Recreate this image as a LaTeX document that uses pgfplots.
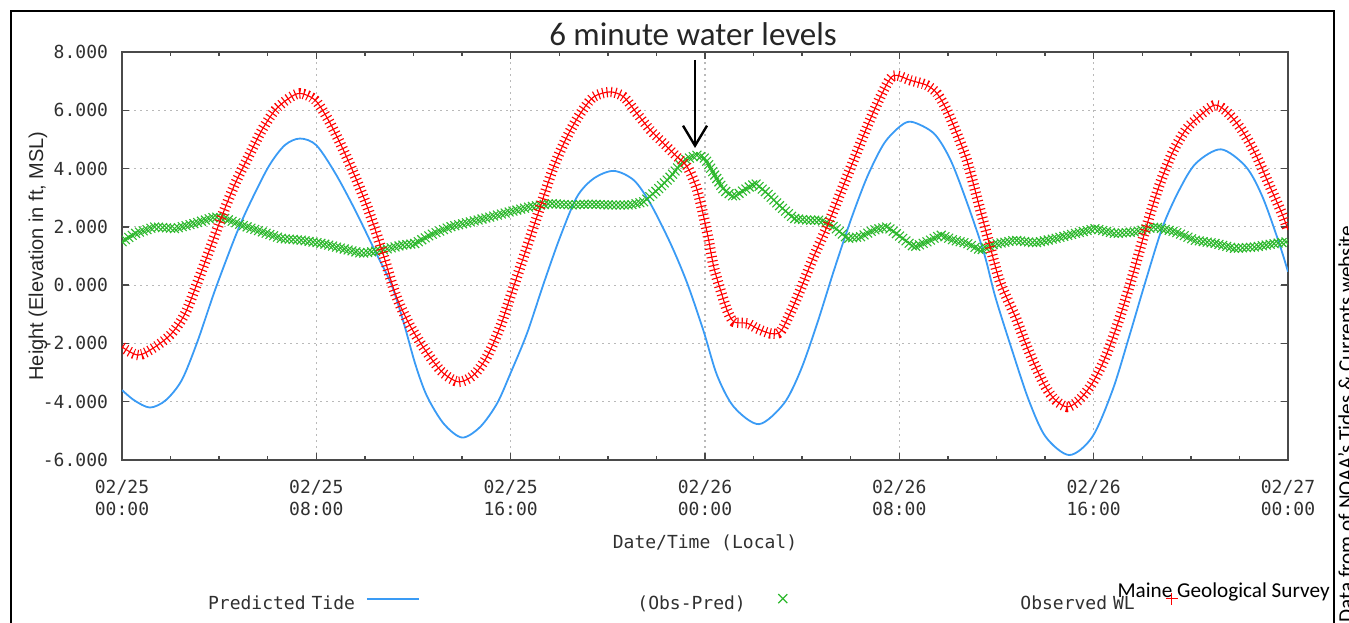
\documentclass[border=0pt]{standalone}
\usepackage{pgfplots}
\pgfplotsset{compat=1.18}
\usepackage{pgfplotstable}
\usepackage{fontspec}
\setmainfont{Carlito}
\newfontfamily\monofont{DejaVu Sans Mono}
\newfontfamily\labelfont{Liberation Sans}
\usetikzlibrary{arrows.meta, decorations.markings}

\definecolor{tideblue}{HTML}{3A9BF5}
\definecolor{obsred}{HTML}{FF0000}
\definecolor{diffgreen}{HTML}{2DB82D}
\definecolor{axisgray}{HTML}{4A4A4A}
\definecolor{textgray}{HTML}{303030}

% hours since 02/25 00:00, level in ft (MSL)
\pgfplotstableread{
hours level
0 -3.6
0.5 -3.95
1.15 -4.2
1.8 -3.95
2.46 -3.26
3.1 -1.95
3.83 -0.17
4.66 1.66
5.2 2.69
6.03 4.06
6.7 4.8
7.33 5.03
8.0 4.8
8.78 3.84
9.6 2.57
10.4 1.2
11.1 0.0
11.6 -1.3
12.07 -2.7
12.55 -3.8
13.24 -4.75
14.0 -5.23
14.75 -4.86
15.44 -4.06
15.99 -3.03
16.67 -1.66
17.36 0.06
18.04 1.66
18.73 3.03
19.42 3.66
20.24 3.92
21.07 3.6
21.75 2.8
22.58 1.43
23.27 0.06
23.95 -1.6
24.5 -3.1
25.19 -4.18
26.22 -4.77
27.25 -4.06
27.94 -2.92
28.62 -1.31
29.31 0.51
30.0 2.23
30.68 3.72
31.37 4.86
32.05 5.46
32.53 5.6
33.43 5.2
34.11 4.29
34.8 2.8
35.49 1.09
35.95 -0.4
36.64 -2.23
37.33 -3.95
38.02 -5.2
39.0 -5.83
39.95 -5.2
40.78 -3.6
41.46 -1.77
42.15 0.17
42.84 2.0
43.52 3.26
44.21 4.18
45.24 4.66
46.27 4.06
46.95 3.03
47.64 1.43
48 0.46
}\predicted

\pgfplotstableread{
hours level
0 -2.12
0.67 -2.4
1.36 -2.12
2.04 -1.66
2.6 -0.97
3.14 0.17
3.7 1.43
4.1 2.34
4.66 3.49
5.2 4.4
5.76 5.32
6.3 6.0
6.85 6.4
7.33 6.58
7.95 6.35
8.5 5.66
9.05 4.75
9.6 3.72
10.15 2.57
10.7 1.2
11.25 -0.29
11.8 -1.3
12.3 -2.0
12.8 -2.6
13.24 -3.03
13.86 -3.32
14.47 -3.09
15.02 -2.46
15.57 -1.43
16.12 -0.06
16.67 1.31
17.22 2.69
17.77 4.06
18.32 5.09
18.87 5.89
19.42 6.46
20.1 6.63
20.65 6.46
21.2 5.89
21.75 5.32
22.3 4.86
22.85 4.4
23.27 4.06
23.68 3.26
24.09 1.8
24.36 0.63
24.64 -0.17
24.91 -0.86
25.19 -1.26
25.74 -1.31
26.15 -1.49
26.7 -1.66
27.1 -1.6
27.5 -0.97
27.92 -0.17
28.47 0.97
29.02 2.0
29.57 3.15
30.12 4.29
30.67 5.43
31.22 6.46
31.63 7.09
31.9 7.2
32.45 7.03
33.13 6.86
33.55 6.58
33.96 6.0
34.37 5.2
34.78 4.29
35.19 3.03
35.74 1.31
36.15 0.1
36.78 -1.09
37.2 -2.0
37.61 -2.8
38.02 -3.49
38.43 -3.95
38.91 -4.18
39.39 -3.95
39.94 -3.37
40.49 -2.46
41.04 -1.2
41.59 0.29
42.13 1.89
42.68 3.37
43.23 4.52
43.78 5.32
44.33 5.78
45.0 6.18
45.55 5.89
46.1 5.32
46.65 4.52
47.2 3.49
47.75 2.46
48 1.89
}\observed

\pgfplotstableread{
hours level
0 1.49
0.54 1.77
1.36 2.0
2.18 1.94
3.0 2.12
3.83 2.34
4.24 2.29
4.93 2.06
5.76 1.83
6.58 1.6
7.4 1.54
8.23 1.43
9.05 1.26
9.88 1.09
10.7 1.2
11.52 1.37
12.07 1.43
12.69 1.72
13.51 2.0
14.34 2.17
15.16 2.34
15.99 2.52
16.81 2.69
17.63 2.8
18.46 2.75
19.28 2.78
20.1 2.75
20.93 2.75
21.48 2.86
22.03 3.26
22.58 3.72
23.13 4.29
23.68 4.46
24.0 4.35
24.36 3.83
24.77 3.26
25.19 3.03
25.6 3.26
26.08 3.49
26.56 3.15
27.11 2.69
27.66 2.29
28.21 2.23
28.76 2.23
29.31 2.0
29.86 1.6
30.4 1.66
30.95 1.89
31.5 2.0
32.05 1.66
32.6 1.31
33.15 1.49
33.7 1.72
34.25 1.54
34.8 1.43
35.35 1.2
35.9 1.4
36.76 1.54
37.59 1.45
38.41 1.6
39.23 1.77
40.06 1.94
40.88 1.77
41.71 1.83
42.53 2.0
43.35 1.83
44.18 1.54
45.0 1.43
45.82 1.26
46.65 1.31
47.47 1.43
48 1.49
}\difference

% dense x markers of the 6-minute difference series, laid along its path
\makeatletter
\newcommand\crossmark{%
  \begin{pgfinterruptpath}%
  \pgftransformresetnontranslations
  \pgfsys@invoke{0.176 0.722 0.176 RG}%
  \pgfsetlinewidth{0.55pt}%
  \pgfpathmoveto{\pgfqpoint{-2.2pt}{-2.2pt}}\pgfpathlineto{\pgfqpoint{2.2pt}{2.2pt}}%
  \pgfpathmoveto{\pgfqpoint{-2.2pt}{2.2pt}}\pgfpathlineto{\pgfqpoint{2.2pt}{-2.2pt}}%
  \pgfusepath{stroke}%
  \end{pgfinterruptpath}}
\makeatother

\tikzset{
  crossband/.style={postaction={draw=none, decorate},
    decoration={markings, mark=between positions 0 and 1 step 2pt with {\crossmark}}},
}

\begin{document}
\begin{tikzpicture}[x=0.5pt, y=0.5pt]
\path[use as bounding box] (0,0) rectangle (1349,622);

\begin{axis}[
    at={(61pt,81pt)}, anchor=south west,
    scale only axis, width=583pt, height=204pt,
    xmin=0, xmax=48, ymin=-6, ymax=8,
    xtick={0,8,16,24,32,40,48},
    minor xtick={2,4,6,10,12,14,18,20,22,26,28,30,34,36,38,42,44,46},
    xticklabels={{02/25\\00:00},{02/25\\08:00},{02/25\\16:00},{02/26\\00:00},{02/26\\08:00},{02/26\\16:00},{02/27\\00:00}},
    ytick={-6,-4,-2,0,2,4,6,8},
    yticklabels={-6.000,-4.000,-2.000,0.000,2.000,4.000,6.000,8.000},
    tick align=inside,
    major tick length=3.5pt, minor tick length=2pt,
    axis line style={axisgray, line width=0.9pt},
    every tick/.style={axisgray, line width=0.7pt},
    grid=major,
    grid style={gray!55, line width=0.6pt, dash pattern=on 1.2pt off 1.8pt},
    tick label style={font=\monofont\fontsize{9}{11}\selectfont, text=textgray},
    x tick label style={align=center, yshift=-6.5pt},
    y tick label style={xshift=-3.5pt},
    xlabel={Date/Time (Local)},
    xlabel style={at={(axis description cs:0.5,-0.2034)}, anchor=center,
        font=\monofont\fontsize{9}{11}\selectfont, text=textgray},
    ylabel={Height (Elevation in ft, MSL)},
    ylabel style={at={(axis description cs:-0.072,0.5)}, anchor=center,
        font=\labelfont\fontsize{10}{12}\selectfont, text=black!85},
    legend columns=3,
    legend plot pos=right,
    legend style={draw=none, fill=none, inner sep=0pt, outer sep=0pt,
        at={(axis description cs:0.0626,-0.35)}, anchor=west,
        font=\monofont\fontsize{9}{11}\selectfont, text=textgray,
        nodes={inner sep=0pt, text width=80pt, align=right},
        /tikz/every odd column/.append style={column sep=5.5pt},
        /tikz/every even column/.append style={column sep=83pt}},
]

\addlegendimage{legend image code/.code={\draw[draw=tideblue, line width=0.9pt] (0pt,3pt) -- (26pt,3pt);}}
\addlegendimage{legend image code/.code={\path[draw=none] (0pt,3pt) -- (26pt,3pt);
    \draw[draw=diffgreen, line width=0.6pt, mark=x, mark size=3.2pt, only marks] plot coordinates {(13pt,3pt)};}}
\addlegendimage{legend image code/.code={\path[draw=none] (0pt,3pt) -- (26pt,3pt);
    \draw[draw=obsred, line width=0.6pt, mark=+, mark size=3pt, only marks] plot coordinates {(13pt,3pt)};}}
\legend{Predicted Tide, (Obs-Pred), Observed WL}

% predicted tide
\addplot[forget plot, tideblue, line width=0.9pt, smooth] table[x=hours, y=level] {\predicted};
% observed minus predicted
\addplot[forget plot, draw=none, crossband] table[x=hours, y=level] {\difference};
% observed water level: a thin trace crossed by short bars every 6 minutes,
% which together read as the dense band of + markers
\addplot[forget plot, draw=obsred, line width=0.55pt, smooth] table[x=hours, y=level] {\observed};
\addplot[forget plot, draw=obsred, line width=5.2pt, line cap=butt, smooth,
    dash pattern=on 0.55pt off 1.6pt] table[x=hours, y=level] {\observed};
\end{axis}

% frame round the figure
\draw[line width=1pt] (11,-2) -- (11,611) -- (1334,611) -- (1334,-2);

\node[font=\fontsize{16.5}{19}\selectfont, text=black!85] at (693,588) {6 minute water levels};
\draw[line width=1.2pt, -{Straight Barb[length=10pt, width=12pt]}] (695,562) -- (695,474);

\node[font=\fontsize{10.6}{12}\selectfont, anchor=base east, inner sep=0pt] at (1330,25) {Maine Geological Survey};
\node[font=\fontsize{10.6}{12}\selectfont, rotate=90, anchor=base west, inner sep=0pt] at (1353,-1) {Data from of NOAA's Tides \& Currents website};
\end{tikzpicture}
\end{document}
